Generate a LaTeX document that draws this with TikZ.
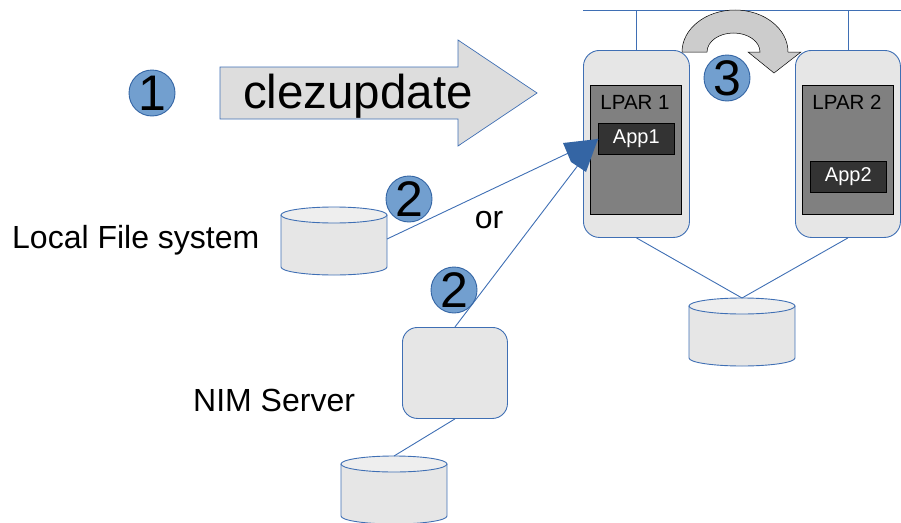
\documentclass[tikz,border=0pt]{standalone}
\usepackage{fontspec}
\setmainfont{Liberation Sans}
\definecolor{lineblue}{HTML}{3F6FB4}
\definecolor{dotfill}{HTML}{729FCF}
\definecolor{dotborder}{HTML}{3465A4}
\definecolor{boxgray}{HTML}{E6E6E6}
\definecolor{lpargray}{HTML}{808080}
\definecolor{appdark}{HTML}{333333}
\definecolor{bigarrow}{HTML}{DDDDDD}
\definecolor{movearrow}{HTML}{CCCCCC}
\definecolor{drumtop}{HTML}{EEEEEE}
\definecolor{headblue}{HTML}{3465A4}
\begin{document}
\begin{tikzpicture}[x=1pt,y=-1pt,
  link/.style={draw=lineblue, line width=0.9pt},
  hostbox/.style={draw=lineblue, fill=boxgray, rounded corners=16pt, line width=0.9pt,
    anchor=north west, inner sep=0pt},
  lparbox/.style={draw=black, fill=lpargray, line width=0.6pt, anchor=north west, inner sep=0pt},
  appbox/.style={draw=black, fill=appdark, text=white, line width=0.6pt, anchor=north west,
    inner sep=0pt, font=\fontsize{20}{24}\selectfont},
  numdot/.style={circle, draw=dotborder, fill=dotfill, line width=0.9pt, minimum size=46pt,
    inner sep=0pt, font=\fontsize{50}{50}\selectfont},
  label/.style={font=\fontsize{32}{36}\selectfont, inner sep=0pt},
  lparlabel/.style={font=\fontsize{20.5}{24}\selectfont, inner sep=0pt},
  drum/.pic={
    \fill[boxgray] (-53,0) rectangle (53,52);
    \fill[boxgray] (0,52) ellipse [x radius=53, y radius=8];
    \draw[link] (-53,0) -- (-53,52) arc[start angle=180, end angle=0, x radius=53, y radius=8] -- (53,0);
    \draw[link, fill=drumtop] (0,0) ellipse [x radius=53, y radius=8];
    \coordinate (-top) at (0,-8);
    \coordinate (-port) at (53,24);
  }]
\useasboundingbox (0,0) rectangle (901,522);

% shared network bus
\coordinate (busL) at (583,10);
\coordinate (busR) at (901,10);
\draw[link] (busL) -- (busR);

% the two cluster nodes
\node[hostbox, minimum width=106pt, minimum height=187pt] (host1) at (583,50) {};
\node[hostbox, minimum width=105pt, minimum height=187pt] (host2) at (795,50) {};
\draw[link] (host1.north |- busL) -- (host1.north);
\draw[link] (host2.north |- busL) -- (host2.north);

\node[lparbox, minimum width=91pt, minimum height=129pt] (lpar1) at (590,85) {};
\node[lparbox, minimum width=91pt, minimum height=129pt] (lpar2) at (802,85) {};
\node[lparlabel] (lp1txt) at (635,102) {LPAR 1};
\node[lparlabel] (lp2txt) at (847,102) {LPAR 2};
\node[appbox, minimum width=76pt, minimum height=31pt] (app1) at (598,123) {App1};
\node[appbox, minimum width=76pt, minimum height=31pt] (app2) at (810,161) {App2};

% shared disk
\pic (shared) at (742,306) {drum};
\draw[link] (host1.south) -- (shared-top);
\draw[link] (host2.south) -- (shared-top);

% move of the application from LPAR 1 to LPAR 2
\filldraw[fill=movearrow, draw=black, line width=0.5pt]
  (682,52) arc[start angle=180, end angle=360, x radius=53, y radius=42]
  -- (801,52) -- (774,73) -- (748,52) -- (760,52)
  arc[start angle=0, end angle=-180, x radius=26.5, y radius=19] -- cycle;

% clezupdate command arrow
\filldraw[fill=bigarrow, draw=lineblue, line width=0.7pt]
  (220,67) -- (458,67) -- (458,40) -- (537,93) -- (458,146) -- (458,119) -- (220,119) -- cycle;
\node[font=\fontsize{47.5}{48}\selectfont, inner sep=0pt] (cmd) at (358,96) {clezupdate};

% update sources
\pic (lfs) at (334,215) {drum};
\node[label, anchor=west] (lfstxt) at (12,240) {Local File system};
\node[draw=lineblue, fill=boxgray, rounded corners=15pt, line width=0.9pt, anchor=north west,
  inner sep=0pt, minimum width=105pt, minimum height=91pt] (nim) at (402,327) {};
\node[label, anchor=west] (nimtxt) at (193,400) {NIM Server};
\pic (nimdisk) at (394,464) {drum};
\draw[link] (nim.south) -- (nimdisk-top);

\coordinate (tip) at (598,139);
\draw[link] (lfs-port) -- (tip);
\draw[link] (nim.north) -- (tip);
\fill[headblue] (tip) -- (563,143) -- (571,162) -- (586,172) -- cycle;
\node[label] (ortxt) at (489,220) {or};

% step markers
\node[numdot] (s1) at (152,93) {1};
\node[numdot] (s2a) at (409,199) {2};
\node[numdot] (s2b) at (454,290) {2};
\node[numdot] (s3) at (727,78) {3};
\end{tikzpicture}
\end{document}
